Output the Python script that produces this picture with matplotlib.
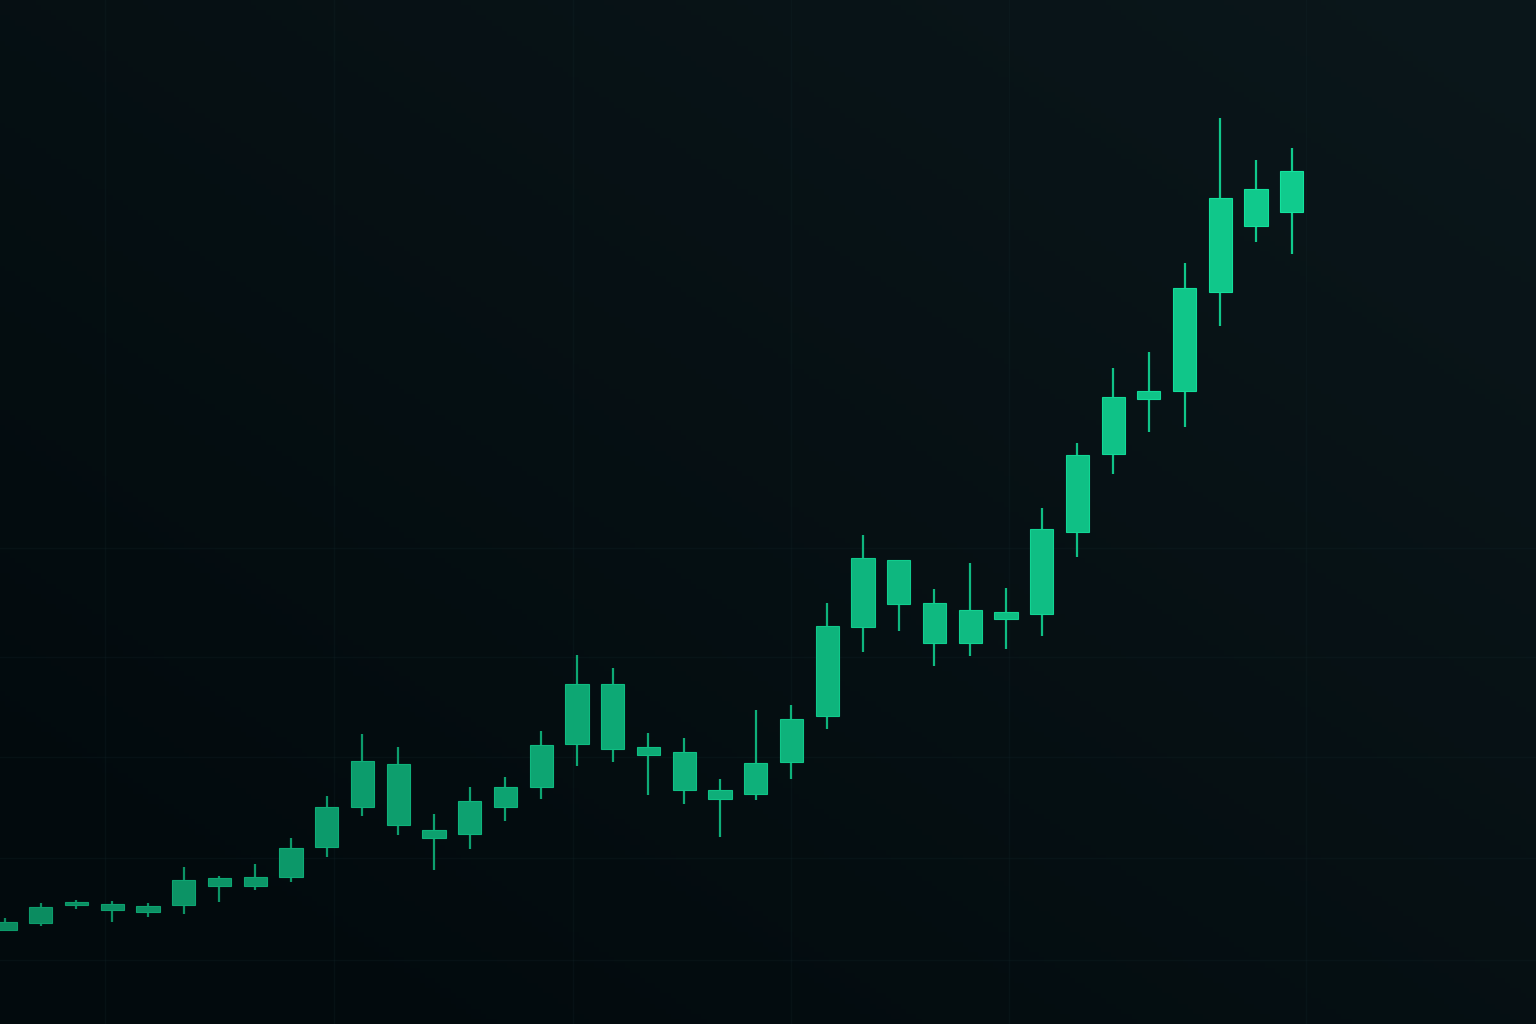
import numpy as np
import matplotlib
matplotlib.use("Agg")
import matplotlib.pyplot as plt
from matplotlib.colors import to_rgb

# candle values (arbitrary price units, no axis shown)
opens = [94, 101, 119, 114, 112, 119, 138, 138, 147, 177, 217, 199, 186,
         190, 217, 237, 280, 275, 269, 234, 225, 230, 262, 308, 397, 420,
         381, 381, 405, 410, 492, 570, 625, 633, 732, 798, 812]
closes = [102, 117, 122, 120, 118, 144, 146, 147, 176, 217, 263, 260, 194,
          223, 237, 279, 340, 340, 277, 272, 234, 261, 305, 398, 466, 464,
          421, 414, 412, 495, 569, 627, 633, 736, 826, 835, 853]
highs = [106, 121, 124, 123, 121, 157, 148, 160, 186, 228, 290, 277, 210,
         237, 247, 293, 369, 356, 291, 286, 245, 314, 319, 421, 489, 464,
         435, 461, 436, 516, 581, 656, 672, 761, 906, 864, 876]
lows = [93, 98, 115, 102, 107, 110, 122, 134, 142, 167, 208, 189, 154,
        175, 203, 225, 258, 262, 229, 220, 187, 224, 245, 295, 372, 393,
        358, 368, 375, 388, 467, 550, 592, 597, 698, 782, 770]

n = len(opens)
idx = np.arange(n)

fig = plt.figure(figsize=(15.36, 10.24), dpi=100)
ax = fig.add_axes([0, 0, 1, 1])
ax.set_xlim(-0.14, 42.83)
ax.set_ylim(0, 1024)
ax.axis("off")

# dark background, a little lighter towards the upper right
c_dark = np.array(to_rgb("#020a0d"))
c_light = np.array(to_rgb("#0b171b"))
gx, gy = np.meshgrid(np.linspace(0, 1, 300), np.linspace(1, 0, 200))
t = np.clip(0.55 * gx + 0.55 * gy - 0.1, 0, 1)[..., None]
bg = c_dark * (1 - t) + c_light * t
ax.imshow(bg, extent=[-0.14, 42.83, 0, 1024], aspect="auto", zorder=0)

# very faint grid
for gxv in [2.8, 9.2, 15.9, 22.0, 28.1, 36.4]:
    ax.axvline(gxv, color="#13262a", lw=1.0, alpha=0.25, zorder=1)
for gyv in [64, 166, 267, 367, 476]:
    ax.axhline(gyv, color="#13262a", lw=1.0, alpha=0.25, zorder=1)

# candles get brighter along the trend
c0 = np.array(to_rgb("#0b8a5f"))
c1 = np.array(to_rgb("#10cb8d"))
width = 0.65
for i in idx:
    f = i / (n - 1)
    col = c0 * (1 - f) + c1 * f
    lo, hi = min(opens[i], closes[i]), max(opens[i], closes[i])
    ax.vlines(i, lows[i], highs[i], color=col, lw=1.6, zorder=2)
    ax.bar(i, hi - lo, bottom=lo, width=width, color=col,
           edgecolor=np.clip(col * 1.12, 0, 1), linewidth=0.8, zorder=3)

fig.savefig("out.png", dpi=100)
